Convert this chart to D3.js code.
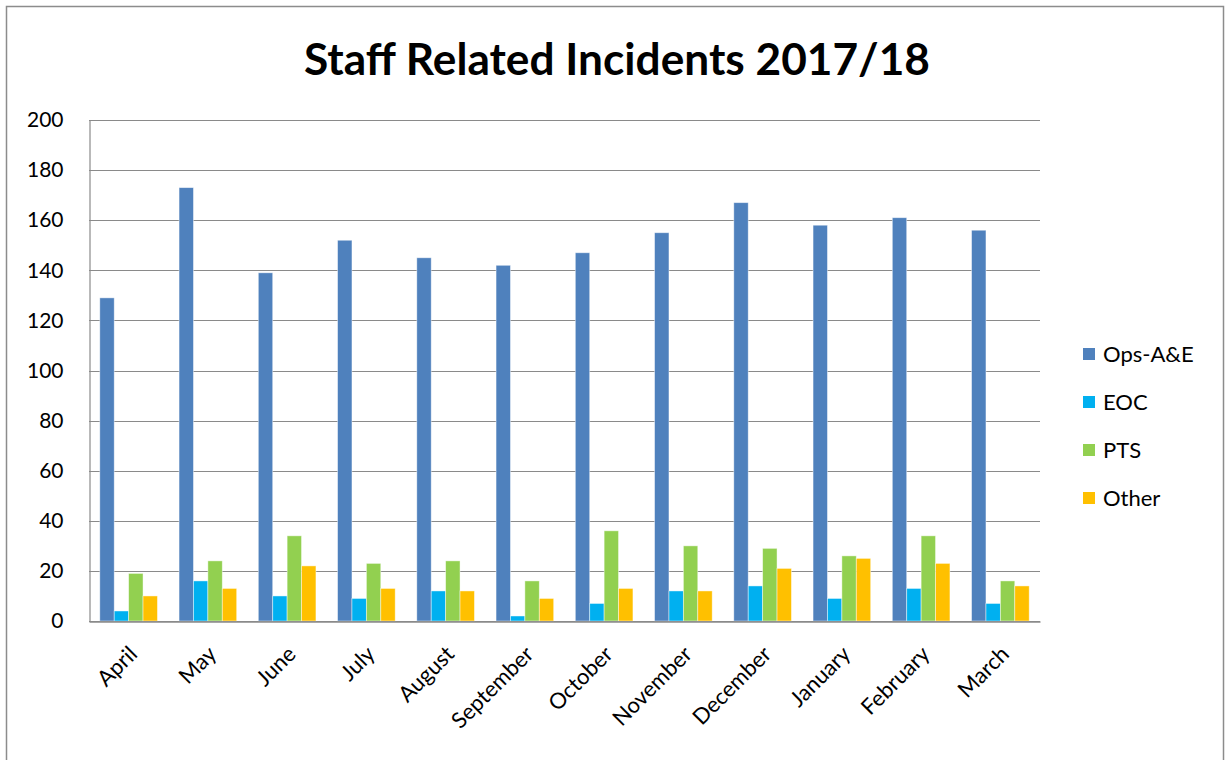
<!DOCTYPE html>
<html>
<head>
<meta charset="utf-8">
<script src="https://cdn.jsdelivr.net/npm/d3@7"></script>
<style>
  html, body { margin: 0; padding: 0; background: #fff; }
  svg { display: block; }
  text { font-family: Lato, "Open Sans", sans-serif; fill: #000; }
</style>
</head>
<body>
<svg id="chart" width="1227" height="760"></svg>
<script>
// Monthly staff related incidents, 2017/18 financial year
const months = ["April", "May", "June", "July", "August", "September",
                "October", "November", "December", "January", "February", "March"];
const seriesNames = ["Ops-A&E", "EOC", "PTS", "Other"];
const opsAE = [129, 173, 139, 152, 145, 142, 147, 155, 167, 158, 161, 156];
const eoc   = [4, 16, 10, 9, 12, 2, 7, 12, 14, 9, 13, 7];
const pts   = [19, 24, 34, 23, 24, 16, 36, 30, 29, 26, 34, 16];
const other = [10, 13, 22, 13, 12, 9, 13, 12, 21, 25, 23, 14];
const yTicks = [0, 20, 40, 60, 80, 100, 120, 140, 160, 180, 200];
const colors = ["#4F81BD", "#00B0F0", "#92D050", "#FFC000"];

const seriesValues = [opsAE, eoc, pts, other];
const rows = months.map((m, i) => ({
  month: m,
  values: seriesNames.map((s, j) => ({ key: s, value: seriesValues[j][i] }))
}));

const svg = d3.select("#chart");

// chart frame
svg.append("rect")
  .attr("x", 6.5).attr("y", 6.5)
  .attr("width", 1217).attr("height", 760)
  .attr("fill", "#fff").attr("stroke", "#8c8c8c").attr("stroke-width", 1.5);

const plot = { left: 89, right: 1040, top: 120, bottom: 621 };

// Excel-style gap width: 150% of a bar between groups
const x0 = d3.scaleBand().domain(months)
  .range([plot.left, plot.right]).paddingInner(1.5 / 5.5).paddingOuter(0.75 / 5.5);
const x1 = d3.scaleBand().domain(seriesNames).range([0, x0.bandwidth()]);
const y = d3.scaleLinear().domain([0, 200]).range([plot.bottom, plot.top]);

// gridlines
svg.append("g")
  .selectAll("line")
  .data(yTicks)
  .join("line")
  .attr("x1", plot.left).attr("x2", plot.right)
  .attr("y1", d => Math.round(y(d)) + 0.5).attr("y2", d => Math.round(y(d)) + 0.5)
  .attr("stroke", "#8a8a8a").attr("stroke-width", 1.2);

// y axis
const yAxis = svg.append("g")
  .attr("transform", `translate(${plot.left + 0.5},0)`)
  .call(d3.axisLeft(y).tickValues(yTicks).tickSize(0).tickPadding(26));
yAxis.select(".domain").attr("stroke", "#8a8a8a").attr("stroke-width", 1.2);
yAxis.selectAll(".tick text")
  .style("font-size", "21px").style("font-family", "Lato, 'Open Sans', sans-serif")
  .attr("fill", "#000");

// bars
svg.append("g")
  .selectAll("g")
  .data(rows)
  .join("g")
  .attr("transform", d => `translate(${x0(d.month)},0)`)
  .selectAll("rect")
  .data(d => d.values)
  .join("rect")
  .attr("x", d => x1(d.key))
  .attr("width", x1.bandwidth())
  .attr("y", d => y(d.value))
  .attr("height", d => y(0) - y(d.value))
  .attr("fill", (d, i) => colors[i])
  .attr("stroke", "#ffffff").attr("stroke-opacity", 0.55).attr("stroke-width", 0.8);

// x axis
const xAxis = svg.append("g")
  .attr("transform", `translate(0,${plot.bottom + 0.5})`)
  .call(d3.axisBottom(x0).tickSize(0).tickPadding(0));
xAxis.select(".domain").attr("stroke", "#8a8a8a").attr("stroke-width", 1.5);
xAxis.selectAll(".tick text")
  .style("font-size", "22px").style("font-family", "Lato, 'Open Sans', sans-serif")
  .attr("fill", "#000")
  .attr("text-anchor", "end")
  .attr("dy", 0)
  .attr("transform", "translate(10,34) rotate(-45)");

// title
svg.append("text")
  .attr("x", 617).attr("y", 75)
  .attr("text-anchor", "middle")
  .style("font-size", "44px").style("font-weight", "bold")
  .attr("textLength", 626).attr("lengthAdjust", "spacingAndGlyphs")
  .text("Staff Related Incidents 2017/18");

// legend
const legend = svg.append("g")
  .selectAll("g")
  .data(seriesNames)
  .join("g")
  .attr("transform", (d, i) => `translate(1083,${354 + i * 48})`);
legend.append("rect")
  .attr("x", 0).attr("y", -6).attr("width", 12).attr("height", 12)
  .attr("fill", (d, i) => colors[i]);
legend.append("text")
  .attr("x", 20).attr("y", 8)
  .style("font-size", "22px")
  .text(d => d);
</script>
</body>
</html>
